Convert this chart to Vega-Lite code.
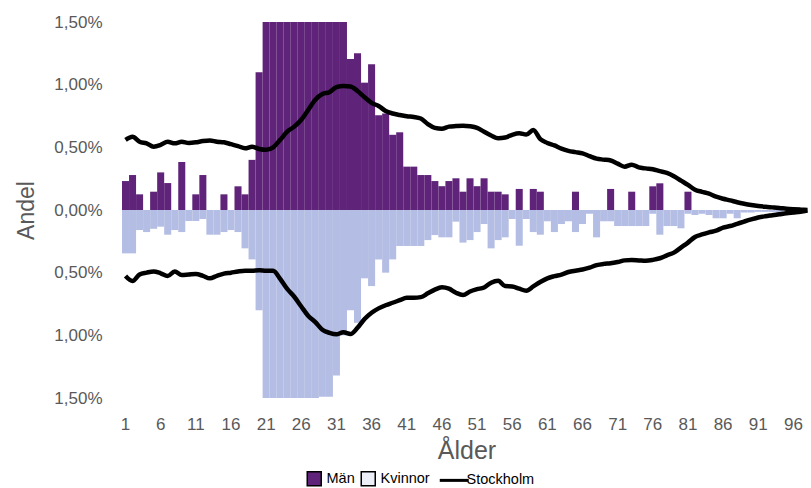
{
  "$schema": "https://vega.github.io/schema/vega-lite/v6.json",
  "width": 689,
  "height": 376,
  "autosize": {"type": "none"},
  "padding": {"left": 122, "top": 22, "right": 0, "bottom": 90},
  "background": "white",
  "config": {
    "view": {"stroke": null},
    "font": "Liberation Sans",
    "axis": {"grid": false, "ticks": false, "domain": false, "labelFont": "Liberation Sans", "labelColor": "#595959", "titleColor": "#595959", "titleFont": "Liberation Sans", "titleFontWeight": "normal"}
  },
  "data": {"values": [
    {"a":1,"m":0.231,"k":-0.346,"p":0.56,"n":-0.527},
    {"a":2,"m":0.279,"k":-0.346,"p":0.585,"n":-0.567},
    {"a":3,"m":0.125,"k":-0.16,"p":0.545,"n":-0.515},
    {"a":4,"m":0,"k":-0.176,"p":0.532,"n":-0.5},
    {"a":5,"m":0.146,"k":-0.15,"p":0.505,"n":-0.49},
    {"a":6,"m":0.3,"k":-0.133,"p":0.519,"n":-0.505},
    {"a":7,"m":0.215,"k":-0.197,"p":0.545,"n":-0.527},
    {"a":8,"m":0,"k":-0.16,"p":0.532,"n":-0.49},
    {"a":9,"m":0.383,"k":-0.176,"p":0.545,"n":-0.519},
    {"a":10,"m":0,"k":-0.088,"p":0.535,"n":-0.515},
    {"a":11,"m":0.125,"k":-0.088,"p":0.54,"n":-0.511},
    {"a":12,"m":0.279,"k":-0.072,"p":0.55,"n":-0.525},
    {"a":13,"m":0,"k":-0.197,"p":0.555,"n":-0.545},
    {"a":14,"m":0,"k":-0.197,"p":0.545,"n":-0.525},
    {"a":15,"m":0.125,"k":-0.176,"p":0.54,"n":-0.508},
    {"a":16,"m":0,"k":-0.16,"p":0.525,"n":-0.5},
    {"a":17,"m":0.189,"k":-0.176,"p":0.51,"n":-0.49},
    {"a":18,"m":0.125,"k":-0.306,"p":0.492,"n":-0.484},
    {"a":19,"m":0.4,"k":-0.394,"p":0.505,"n":-0.484},
    {"a":20,"m":1.1,"k":-0.8,"p":0.487,"n":-0.48},
    {"a":21,"m":1.62,"k":-1.6,"p":0.48,"n":-0.484},
    {"a":22,"m":1.78,"k":-1.7,"p":0.5,"n":-0.484},
    {"a":23,"m":1.9,"k":-1.8,"p":0.56,"n":-0.55},
    {"a":24,"m":1.98,"k":-1.85,"p":0.625,"n":-0.63},
    {"a":25,"m":2.02,"k":-1.85,"p":0.665,"n":-0.692},
    {"a":26,"m":2.05,"k":-1.8,"p":0.72,"n":-0.77},
    {"a":27,"m":2.0,"k":-1.7,"p":0.8,"n":-0.845},
    {"a":28,"m":1.94,"k":-1.6,"p":0.88,"n":-0.895},
    {"a":29,"m":1.86,"k":-1.49,"p":0.925,"n":-0.955},
    {"a":30,"m":1.76,"k":-1.49,"p":0.94,"n":-0.98},
    {"a":31,"m":1.66,"k":-1.32,"p":0.98,"n":-0.992},
    {"a":32,"m":1.56,"k":-1.0,"p":0.99,"n":-0.975},
    {"a":33,"m":1.205,"k":-0.8,"p":0.985,"n":-0.99},
    {"a":34,"m":1.25,"k":-0.9,"p":0.95,"n":-0.94},
    {"a":35,"m":1.016,"k":-0.545,"p":0.9,"n":-0.87},
    {"a":36,"m":1.163,"k":-0.607,"p":0.855,"n":-0.82},
    {"a":37,"m":0.756,"k":-0.394,"p":0.83,"n":-0.785},
    {"a":38,"m":0.77,"k":-0.5,"p":0.79,"n":-0.76},
    {"a":39,"m":0.6,"k":-0.394,"p":0.77,"n":-0.74},
    {"a":40,"m":0.62,"k":-0.287,"p":0.758,"n":-0.72},
    {"a":41,"m":0.346,"k":-0.287,"p":0.748,"n":-0.7},
    {"a":42,"m":0.346,"k":-0.287,"p":0.742,"n":-0.7},
    {"a":43,"m":0.279,"k":-0.287,"p":0.73,"n":-0.695},
    {"a":44,"m":0.279,"k":-0.24,"p":0.686,"n":-0.665},
    {"a":45,"m":0.231,"k":-0.2,"p":0.655,"n":-0.635},
    {"a":46,"m":0.19,"k":-0.218,"p":0.648,"n":-0.617},
    {"a":47,"m":0.231,"k":-0.218,"p":0.665,"n":-0.628},
    {"a":48,"m":0.253,"k":-0.093,"p":0.67,"n":-0.66},
    {"a":49,"m":0.146,"k":-0.26,"p":0.673,"n":-0.678},
    {"a":50,"m":0.253,"k":-0.24,"p":0.668,"n":-0.65},
    {"a":51,"m":0.19,"k":-0.176,"p":0.655,"n":-0.632},
    {"a":52,"m":0.253,"k":-0.112,"p":0.625,"n":-0.618},
    {"a":53,"m":0.146,"k":-0.306,"p":0.595,"n":-0.58},
    {"a":54,"m":0.146,"k":-0.24,"p":0.572,"n":-0.565},
    {"a":55,"m":0.125,"k":-0.218,"p":0.578,"n":-0.607},
    {"a":56,"m":0,"k":-0.072,"p":0.6,"n":-0.61},
    {"a":57,"m":0.168,"k":-0.285,"p":0.612,"n":-0.628},
    {"a":58,"m":0,"k":-0.072,"p":0.602,"n":-0.644},
    {"a":59,"m":0.168,"k":-0.176,"p":0.638,"n":-0.61},
    {"a":60,"m":0.146,"k":-0.197,"p":0.565,"n":-0.575},
    {"a":61,"m":0,"k":-0.09,"p":0.535,"n":-0.545},
    {"a":62,"m":0,"k":-0.176,"p":0.515,"n":-0.528},
    {"a":63,"m":0,"k":-0.112,"p":0.49,"n":-0.515},
    {"a":64,"m":0,"k":-0.09,"p":0.472,"n":-0.495},
    {"a":65,"m":0.146,"k":-0.176,"p":0.462,"n":-0.484},
    {"a":66,"m":0,"k":-0.112,"p":0.452,"n":-0.475},
    {"a":67,"m":0,"k":-0.03,"p":0.43,"n":-0.46},
    {"a":68,"m":0,"k":-0.218,"p":0.41,"n":-0.44},
    {"a":69,"m":0,"k":-0.09,"p":0.402,"n":-0.43},
    {"a":70,"m":0.168,"k":-0.09,"p":0.395,"n":-0.425},
    {"a":71,"m":0,"k":-0.128,"p":0.37,"n":-0.415},
    {"a":72,"m":0,"k":-0.128,"p":0.346,"n":-0.402},
    {"a":73,"m":0.146,"k":-0.128,"p":0.362,"n":-0.399},
    {"a":74,"m":0,"k":-0.128,"p":0.34,"n":-0.402},
    {"a":75,"m":0,"k":-0.128,"p":0.332,"n":-0.405},
    {"a":76,"m":0.189,"k":-0.03,"p":0.325,"n":-0.398},
    {"a":77,"m":0.213,"k":-0.197,"p":0.31,"n":-0.385},
    {"a":78,"m":0,"k":-0.128,"p":0.296,"n":-0.362},
    {"a":79,"m":0,"k":-0.128,"p":0.27,"n":-0.34},
    {"a":80,"m":0,"k":-0.146,"p":0.235,"n":-0.3},
    {"a":81,"m":0.146,"k":-0.03,"p":0.2,"n":-0.26},
    {"a":82,"m":0,"k":-0.04,"p":0.162,"n":-0.215},
    {"a":83,"m":0,"k":-0.03,"p":0.145,"n":-0.195},
    {"a":84,"m":0,"k":-0.04,"p":0.13,"n":-0.178},
    {"a":85,"m":0,"k":-0.066,"p":0.106,"n":-0.165},
    {"a":86,"m":0,"k":-0.066,"p":0.09,"n":-0.14},
    {"a":87,"m":0,"k":-0.03,"p":0.077,"n":-0.128},
    {"a":88,"m":0,"k":-0.066,"p":0.062,"n":-0.11},
    {"a":89,"m":0,"k":-0.02,"p":0.05,"n":-0.092},
    {"a":90,"m":0,"k":-0.02,"p":0.04,"n":-0.075},
    {"a":91,"m":0,"k":-0.015,"p":0.032,"n":-0.06},
    {"a":92,"m":0,"k":-0.015,"p":0.026,"n":-0.05},
    {"a":93,"m":0,"k":-0.015,"p":0.021,"n":-0.042},
    {"a":94,"m":0,"k":-0.02,"p":0.016,"n":-0.034},
    {"a":95,"m":0,"k":0,"p":0.01,"n":-0.026},
    {"a":96,"m":0,"k":0,"p":0.006,"n":-0.02},
    {"a":97,"m":0,"k":0,"p":0.003,"n":-0.014},
    {"a":98,"m":0,"k":0,"p":0,"n":-0.005}
  ]},
  "encoding": {
    "x": {
      "field": "a", "type": "ordinal",
      "scale": {"paddingInner": 0, "paddingOuter": 0},
      "axis": {"title": "Ålder", "labelAngle": 0, "values": [1,6,11,16,21,26,31,36,41,46,51,56,61,66,71,76,81,86,91,96], "labelFontSize": 17, "labelPadding": 18, "titleFontSize": 25, "titlePadding": 6}
    }
  },
  "layer": [
    {
      "mark": {"type": "bar", "clip": true},
      "encoding": {
        "y": {"field": "m", "type": "quantitative",
          "scale": {"domain": [-1.5, 1.5], "nice": false},
          "axis": {"title": "Andel", "values": [-1.5,-1,-0.5,0,0.5,1,1.5], "labelExpr": "replace(format(abs(datum.value), '.2f'), '.', ',') + '%'", "labelFontSize": 17, "labelPadding": 20, "titleFontSize": 23, "titlePadding": 15}},
        "color": {"datum": "Män", "type": "nominal",
          "scale": {"domain": ["Män", "Kvinnor", "Stockholm"], "range": ["#5f2479", "#b4bde3", "#000000"]},
          "legend": {
            "title": null, "orient": "none", "legendX": 185, "legendY": 449, "direction": "horizontal",
            "symbolType": "square", "symbolSize": 196, "labelFont": "Liberation Sans", "labelFontSize": 14.5, "labelColor": "#000000", "labelOffset": 5, "columnPadding": 3,
            "symbolStrokeColor": "#000000", "symbolStrokeWidth": 1.5, "symbolOpacity": 1,
            "encode": {"symbols": {"update": {
              "shape": {"signal": "datum.value === 'Stockholm' ? 'stroke' : 'square'"},
              "size": {"signal": "datum.value === 'Stockholm' ? 841 : 196"},
              "fillOpacity": {"signal": "datum.value === 'Kvinnor' ? 0.25 : 1"},
              "strokeWidth": {"signal": "datum.value === 'Stockholm' ? 3 : 1.5"}
            }}}
          }
        }
      }
    },
    {
      "mark": {"type": "bar", "clip": true},
      "encoding": {
        "y": {"field": "k", "type": "quantitative"},
        "color": {"datum": "Kvinnor", "type": "nominal"}
      }
    },
    {
      "mark": {"type": "rule", "color": "#d9d9d9", "strokeWidth": 2},
      "encoding": {"y": {"datum": 0}}
    },
    {
      "mark": {"type": "line", "strokeWidth": 4.5, "interpolate": "monotone", "color": "#000000"},
      "encoding": {
        "y": {"field": "p", "type": "quantitative"}
      }
    },
    {
      "mark": {"type": "line", "strokeWidth": 4.5, "interpolate": "monotone", "color": "#000000"},
      "encoding": {
        "y": {"field": "n", "type": "quantitative"}
      }
    }
  ]
}
